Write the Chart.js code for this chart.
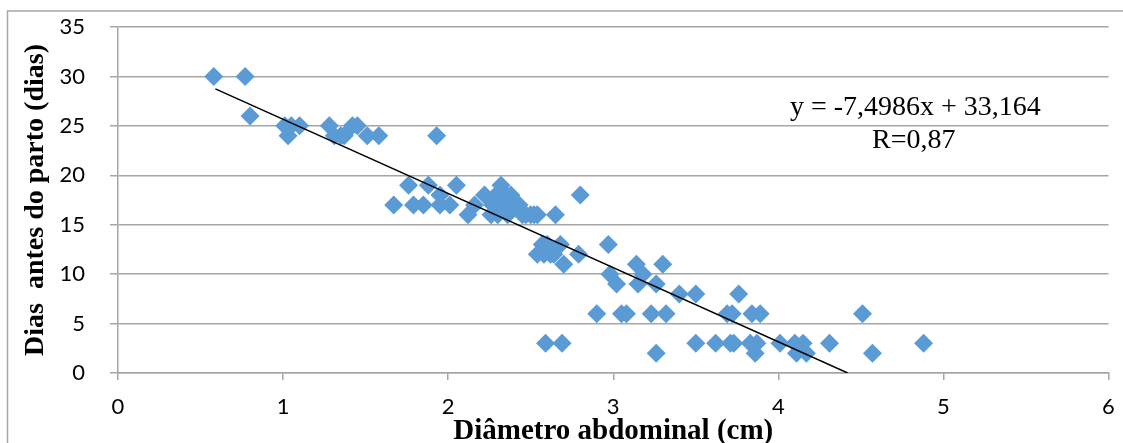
<!DOCTYPE html>
<html>
<head>
<meta charset="utf-8">
<script src="https://cdn.jsdelivr.net/npm/chart.js@4.4.1/dist/chart.umd.min.js"></script>
<style>
  html, body { margin: 0; padding: 0; background: #ffffff; }
</style>
</head>
<body>
<canvas id="grafico" width="1123" height="443"></canvas>
<script>
// Datos
const diametro = [
  0.58, 0.77, 0.80, 1.01, 1.05, 1.10, 1.03, 1.28, 1.31, 1.35, 1.37, 1.42, 1.45, 1.51, 1.58, 1.93,
  1.67, 1.76, 1.79, 1.85, 1.88, 1.95, 1.95, 2.01, 2.05, 2.12, 2.16, 2.22, 2.26, 2.27, 2.29, 2.30,
  2.32, 2.33, 2.35, 2.36, 2.38, 2.39, 2.41, 2.43, 2.45, 2.47, 2.50, 2.52, 2.54, 2.65, 2.80,
  2.54, 2.57, 2.58, 2.60, 2.62, 2.64, 2.68, 2.70, 2.79, 2.97, 2.98, 3.02, 3.14, 3.18, 3.15, 3.26,
  3.30, 3.40, 3.50, 2.90, 3.05, 3.08, 3.23, 3.32, 3.69, 3.72, 3.76, 3.84, 3.89, 4.51,
  2.59, 2.69, 3.26, 3.50, 3.62, 3.71, 3.73, 3.83, 3.87, 3.86, 4.01, 4.10, 4.15, 4.11, 4.17, 4.31,
  4.57, 4.88
];
const dias = [
  30, 30, 26, 25, 25, 25, 24, 25, 24, 24, 24, 25, 25, 24, 24, 24,
  17, 19, 17, 17, 19, 18, 17, 17, 19, 16, 17, 18, 16, 17, 18, 16,
  19, 17, 18, 16, 18, 17, 17, 17, 16, 16, 16, 16, 16, 16, 18,
  12, 13, 12, 13, 12, 12, 13, 11, 12, 13, 10, 9, 11, 10, 9, 9,
  11, 8, 8, 6, 6, 6, 6, 6, 6, 6, 8, 6, 6, 6,
  3, 3, 2, 3, 3, 3, 3, 3, 3, 2, 3, 3, 3, 2, 2, 3,
  2, 3
];
const tendenciaX = [0.59, 4.42];
const tendenciaY = [28.74, 0];
const ticksX = [0, 1, 2, 3, 4, 5, 6];
const ticksY = [0, 5, 10, 15, 20, 25, 30, 35];
const ecuacion = 'y = -7,4986x + 33,164';
const coefR = 'R=0,87';

const gris = '#a6a6a6';

// Marco exterior y texto de la ecuación
const marcoYTexto = {
  id: 'marcoYTexto',
  afterDraw(chart) {
    const ctx = chart.ctx;
    const sx = chart.scales.x, sy = chart.scales.y;
    ctx.save();
    ctx.strokeStyle = gris;
    ctx.lineWidth = 1.5;
    ctx.beginPath();
    ctx.moveTo(7.5, 443);
    ctx.lineTo(7.5, 11);
    ctx.lineTo(1123, 11);
    ctx.stroke();
    ctx.fillStyle = '#000';
    ctx.font = '28px "Liberation Serif"';
    ctx.textAlign = 'center';
    ctx.textBaseline = 'middle';
    ctx.fillText(ecuacion, sx.getPixelForValue(4.83), sy.getPixelForValue(26.8));
    ctx.fillText(coefR, sx.getPixelForValue(4.82), sy.getPixelForValue(23.5));
    ctx.restore();
  }
};

new Chart(document.getElementById('grafico'), {
  type: 'scatter',
  data: {
    datasets: [{
      type: 'line',
      data: tendenciaX.map((x, i) => ({ x: x, y: tendenciaY[i] })),
      borderColor: '#000000',
      borderWidth: 1.5,
      pointRadius: 0,
      fill: false,
      order: 0
    }, {
      data: diametro.map((x, i) => ({ x: x, y: dias[i] })),
      pointStyle: 'rectRot',
      pointRadius: 9.5,
      pointHoverRadius: 9.5,
      backgroundColor: '#5b9bd5',
      borderWidth: 0,
      order: 1
    }]
  },
  options: {
    responsive: false,
    maintainAspectRatio: false,
    animation: false,
    events: [],
    layout: { padding: { left: 22, top: 27, right: 14.5, bottom: 0 } },
    plugins: { legend: { display: false }, tooltip: { enabled: false } },
    scales: {
      x: {
        type: 'linear',
        min: 0,
        max: 6,
        afterBuildTicks: (s) => { s.ticks = ticksX.map(v => ({ value: v })); },
        afterFit: (s) => { s.height = 70; s.paddingLeft = 0; s.paddingRight = 0; },
        grid: { drawOnChartArea: false, drawTicks: true, tickLength: 7, color: gris, lineWidth: 1.5 },
        border: { color: gris, width: 1.5 },
        ticks: { color: '#000', font: { family: 'Lato', size: 22 }, padding: 14, maxRotation: 0 },
        title: {
          display: true,
          text: 'Diâmetro abdominal (cm)',
          color: '#000',
          font: { family: '"Liberation Serif"', size: 29, weight: 'bold', lineHeight: 0.8 },
          padding: 0
        }
      },
      y: {
        min: 0,
        max: 35,
        afterBuildTicks: (s) => { s.ticks = ticksY.map(v => ({ value: v })); },
        afterFit: (s) => { s.width = 96; s.paddingTop = 0; s.paddingBottom = 0; },
        grid: { color: gris, lineWidth: 1.5, tickLength: 8 },
        border: { color: gris, width: 1.5 },
        ticks: { color: '#000', font: { family: 'Lato', size: 22 }, padding: 25 },
        title: {
          display: true,
          text: 'Dias  antes do parto (dias)',
          color: '#000',
          font: { family: '"Liberation Serif"', size: 28, weight: 'bold', lineHeight: 1 },
          padding: 0
        }
      }
    }
  },
  plugins: [marcoYTexto]
});
</script>
</body>
</html>
